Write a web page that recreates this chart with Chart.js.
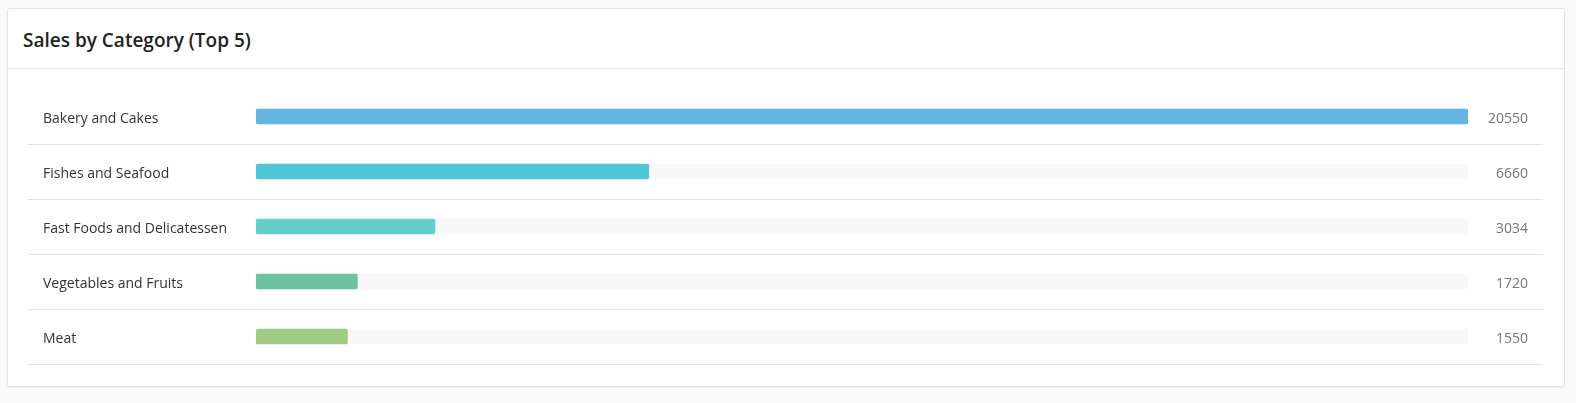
<!DOCTYPE html>
<html>
<head>
<meta charset="utf-8">
<script src="https://cdn.jsdelivr.net/npm/chart.js@4"></script>
<style>
  html, body { margin: 0; padding: 0; background: #fafafa; }
  body { width: 1576px; height: 403px; position: relative; overflow: hidden; font-family: "Open Sans", sans-serif; }
  .card {
    position: absolute; left: 7px; top: 8px; width: 1556px; height: 377px;
    background: #fff; border: 1px solid #e3e3e3; border-radius: 3px;
    box-shadow: 0 1px 2px rgba(0, 0, 0, 0.05);
  }
  .card-header {
    height: 60px; border-bottom: 1px solid #e8e8e8;
    display: flex; align-items: center; padding-left: 15px; padding-top: 2px; box-sizing: border-box;
    font-size: 19px; font-weight: 600; color: #222;
  }
  .card-body { position: relative; width: 1556px; height: 316px; }
</style>
</head>
<body>
<div class="card">
  <div class="card-header">Sales by Category (Top 5)</div>
  <div class="card-body"><canvas id="chart-categorias"></canvas></div>
</div>
<script>
// Datos
const categorias = ['Bakery and Cakes', 'Fishes and Seafood', 'Fast Foods and Delicatessen', 'Vegetables and Fruits', 'Meat'];
const ventas = [20550, 6660, 3034, 1720, 1550];
const colores = ['#64b5e2', '#50c7d9', '#64cecb', '#6fc2a0', '#a1cb84'];

const maximo = Math.max(...ventas);
const colorLinea = '#e4e4e4';
const colorTexto = '#333';
const colorValor = '#777';

/** Oculta la primera línea (encima de la primera fila) */
function colorSeparador(ctx) {
  return ctx.index === 0 ? 'rgba(0,0,0,0)' : colorLinea;
}

new Chart(document.getElementById('chart-categorias'), {
  type: 'bar',
  data: {
    labels: categorias,
    datasets: [
      {
        label: 'Ventas',
        data: ventas,
        backgroundColor: colores,
        barThickness: 15,
        borderRadius: 2,
        borderSkipped: false,
        grouped: false,
        order: 0,
      },
      {
        label: 'Fondo',
        data: categorias.map(() => maximo),
        backgroundColor: '#f8f8f8',
        barThickness: 15,
        grouped: false,
        order: 1,
      },
    ],
  },
  options: {
    indexAxis: 'y',
    responsive: true,
    maintainAspectRatio: false,
    animation: false,
    layout: { padding: { left: 35, right: 36, top: 20, bottom: 21 } },
    plugins: { legend: { display: false }, tooltip: { enabled: false } },
    scales: {
      x: { display: false, min: 0, max: maximo },
      y: {
        position: 'left',
        border: { display: false },
        grid: { offset: true, color: colorSeparador, tickLength: 229, lineWidth: 1 },
        ticks: { crossAlign: 'far', color: colorTexto, font: { family: 'Open Sans', size: 14 }, padding: 0, labelOffset: 3 },
        afterFit: (escala) => { escala.width = 213; },
      },
      y2: {
        type: 'category',
        position: 'right',
        labels: ventas.map(String),
        offset: true,
        border: { display: false },
        grid: { offset: true, drawOnChartArea: false, color: colorSeparador, tickLength: 75 },
        ticks: { crossAlign: 'far', color: colorValor, font: { family: 'Open Sans', size: 14 }, padding: 0, labelOffset: 3 },
        afterFit: (escala) => { escala.width = 60; },
      },
    },
  },
});
</script>
</body>
</html>
